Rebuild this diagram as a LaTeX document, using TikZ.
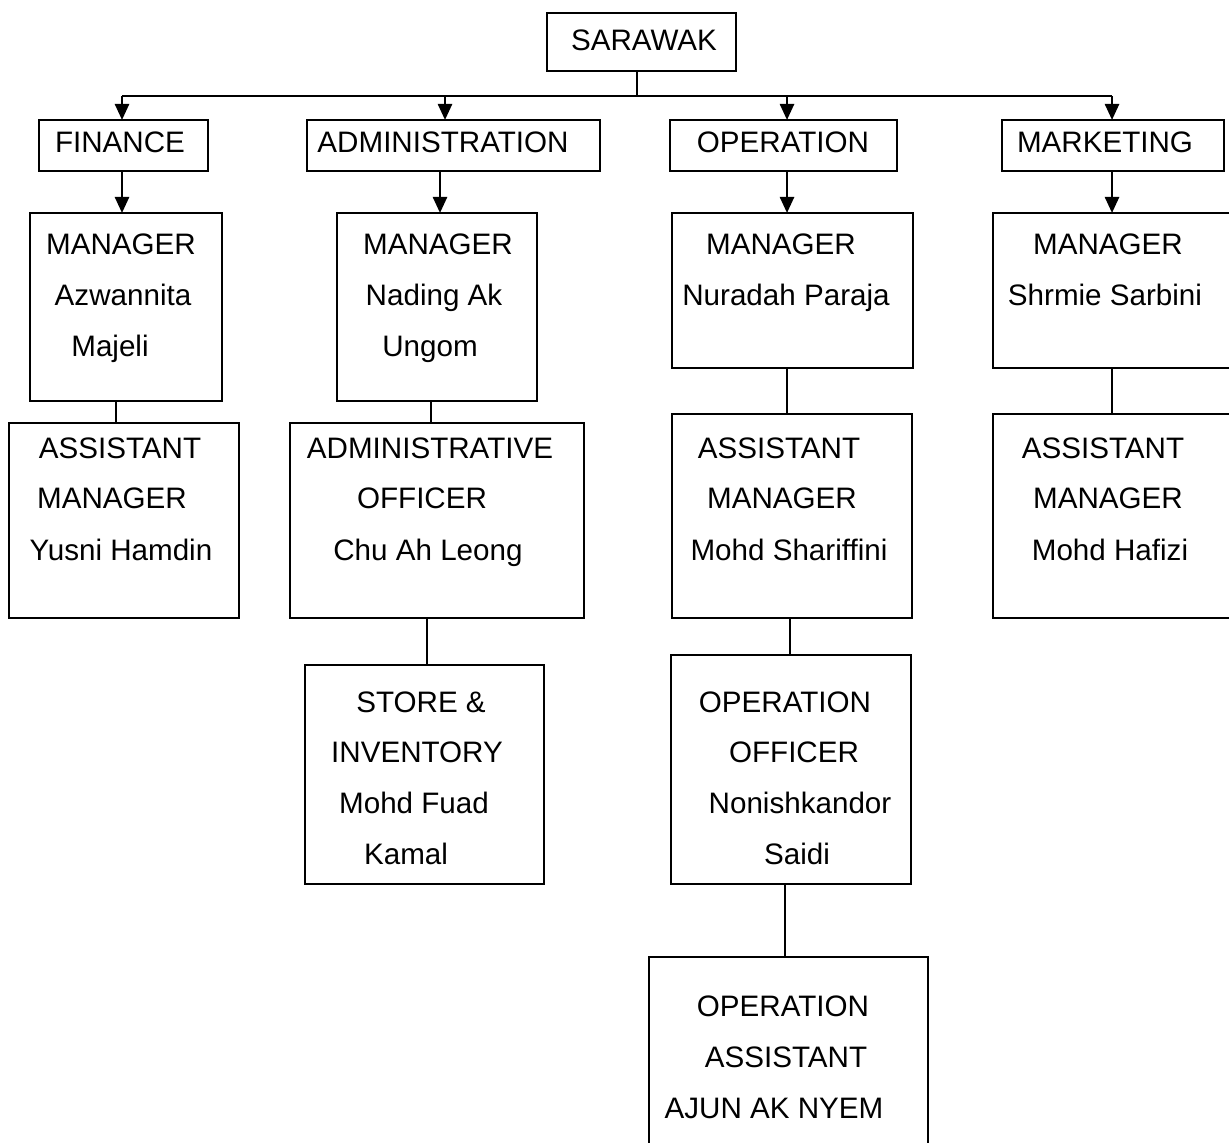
\documentclass[tikz,border=0pt]{standalone}
\usepackage{fontspec}
\setmainfont{Liberation Sans}
\usetikzlibrary{arrows.meta}
\begin{document}
\begin{tikzpicture}[x=0.5pt,y=-0.5pt,
  unit/.style={draw, rectangle, line width=1.25pt, inner sep=0pt, outer sep=0pt},
  link/.style={line width=1.1pt},
  arr/.style={line width=1.25pt, -{Triangle[length=8pt,width=7pt]}},
  txt/.style={anchor=base, inner sep=0pt, font=\fontsize{14.8}{17}\selectfont}]
\useasboundingbox (0,0) rectangle (1229,1143);
\clip (0,0) rectangle (1229,1143);

% --- units ---
\node[unit, minimum width=94.5pt, minimum height=29pt]   (sar) at (641.5,42) {};
\node[unit, minimum width=84.5pt, minimum height=25.5pt] (fin) at (123.5,145.5) {};
\node[unit, minimum width=146.5pt,minimum height=25.5pt] (adm) at (453.5,145.5) {};
\node[unit, minimum width=113.5pt,minimum height=25.5pt] (ops) at (783.5,145.5) {};
\node[unit, minimum width=111pt,  minimum height=25.5pt] (mkt) at (1113,145.5) {};

\node[unit, minimum width=96pt,   minimum height=94pt]   (fm) at (126,307) {};
\node[unit, minimum width=100pt,  minimum height=94pt]   (am) at (437,307) {};
\node[unit, minimum width=120.5pt,minimum height=77.5pt] (om) at (792.5,290.5) {};
\node[unit, minimum width=123.5pt,minimum height=77.5pt] (mm) at (1116.5,290.5) {};

\node[unit, minimum width=115pt,  minimum height=97.5pt] (fa) at (124,520.5) {};
\node[unit, minimum width=147pt,  minimum height=97.5pt] (ao) at (437,520.5) {};
\node[unit, minimum width=120pt,  minimum height=102pt]  (oa) at (792,516) {};
\node[unit, minimum width=123.5pt,minimum height=102pt]  (ma) at (1116.5,516) {};

\node[unit, minimum width=119.5pt,minimum height=109.5pt] (st) at (424.5,774.5) {};
\node[unit, minimum width=120pt,  minimum height=114.5pt] (oo) at (791,769.5) {};
\node[unit, minimum width=139.5pt,minimum height=101.5pt] (ot) at (788.5,1058.5) {};

% --- columns of the connectors ---
\coordinate (bus) at (0,96);
\coordinate (cs) at (637,0);
\coordinate (cf) at (122,0);
\coordinate (ca) at (445,0);
\coordinate (co) at (787,0);
\coordinate (cm) at (1112,0);
\coordinate (xa1) at (440,0);
\coordinate (xf2) at (116,0);
\coordinate (xa2) at (431,0);
\coordinate (xa3) at (427,0);
\coordinate (xo3) at (790,0);
\coordinate (xo4) at (785,0);

% --- top level distribution ---
\draw[link] (sar.south -| cs) -- (cs |- bus);
\draw[link] (cf |- bus) -- (cm |- bus);
\draw[arr] (cf |- bus) -- (cf |- fin.north);
\draw[arr] (ca |- bus) -- (ca |- adm.north);
\draw[arr] (co |- bus) -- (co |- ops.north);
\draw[arr] (cm |- bus) -- (cm |- mkt.north);

% --- departments to managers ---
\draw[arr] (fin.south -| cf) -- (fm.north -| cf);
\draw[arr] (adm.south -| xa1) -- (am.north -| xa1);
\draw[arr] (ops.south -| co) -- (om.north -| co);
\draw[arr] (mkt.south -| cm) -- (mm.north -| cm);

% --- lower levels ---
\draw[link] (fm.south -| xf2) -- (fa.north -| xf2);
\draw[link] (am.south -| xa2) -- (ao.north -| xa2);
\draw[link] (om.south -| co) -- (oa.north -| co);
\draw[link] (mm.south -| cm) -- (ma.north -| cm);
\draw[link] (ao.south -| xa3) -- (st.north -| xa3);
\draw[link] (oa.south -| xo3) -- (oo.north -| xo3);
\draw[link] (oo.south -| xo4) -- (ot.north -| xo4);

% --- texts ---
\node[txt] (t0) at (644,51) {SARAWAK};
\node[txt] (t1) at (120,153) {FINANCE};
\node[txt] (t2) at (443,153) {ADMINISTRATION};
\node[txt] (t3) at (783,153) {OPERATION};
\node[txt] (t4) at (1105,153) {MARKETING};

\node[txt] (f1) at (121,255) {MANAGER};
\node[txt] (f2) at (123,306) {Azwannita};
\node[txt] (f3) at (110,357) {Majeli};

\node[txt] (a1) at (438,255) {MANAGER};
\node[txt] (a2) at (434,306) {Nading Ak};
\node[txt] (a3) at (430,357) {Ungom};

\node[txt] (o1) at (781,255) {MANAGER};
\node[txt] (o2) at (786,306) {Nuradah Paraja};

\node[txt] (m1) at (1108,255) {MANAGER};
\node[txt] (m2) at (1105,306) {Shrmie Sarbini};

\node[txt] (f4) at (120,459) {ASSISTANT};
\node[txt] (f5) at (112,509) {MANAGER};
\node[txt] (f6) at (121,560) {Yusni Hamdin};

\node[txt] (a4) at (430,459) {ADMINISTRATIVE};
\node[txt] (a5) at (422,509) {OFFICER};
\node[txt] (a6) at (428,560) {Chu Ah Leong};

\node[txt] (o4) at (779,459) {ASSISTANT};
\node[txt] (o5) at (782,509) {MANAGER};
\node[txt] (o6) at (789,560) {Mohd Shariffini};

\node[txt] (m4) at (1103,459) {ASSISTANT};
\node[txt] (m5) at (1108,509) {MANAGER};
\node[txt] (m6) at (1110,560) {Mohd Hafizi};

\node[txt] (s1) at (421,712) {STORE \&};
\node[txt] (s2) at (417,762) {INVENTORY};
\node[txt] (s3) at (414,813) {Mohd Fuad};
\node[txt] (s4) at (406,864) {Kamal};

\node[txt] (p1) at (785,712) {OPERATION};
\node[txt] (p2) at (794,762) {OFFICER};
\node[txt] (p3) at (800,813) {Nonishkandor};
\node[txt] (p4) at (797,864) {Saidi};

\node[txt] (q1) at (783,1016) {OPERATION};
\node[txt] (q2) at (786,1067) {ASSISTANT};
\node[txt] (q3) at (774,1118) {AJUN AK NYEM};
\end{tikzpicture}
\end{document}
